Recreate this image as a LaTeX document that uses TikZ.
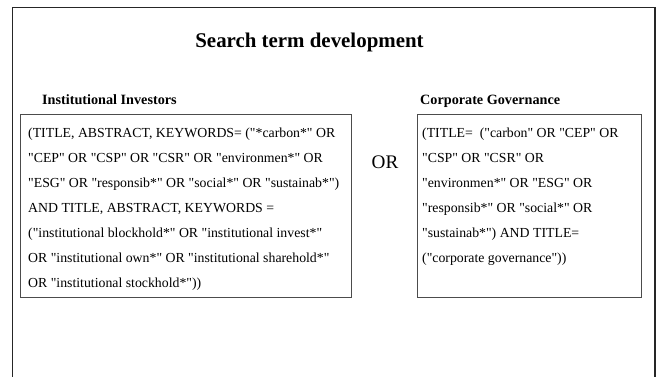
\documentclass[tikz,border=0pt]{standalone}
\usepackage{fontspec}
\setmainfont{Liberation Serif}[Ligatures=TeXOff]
\begin{document}
\begin{tikzpicture}[x=1pt,y=-1pt,
  frame/.style={draw=black!85,line width=1.1pt},
  qbox/.style={draw=black!70,line width=1.2pt,anchor=north west,inner sep=0pt},
  qtext/.style={anchor=north west,inner sep=0pt,align=left,font=\fontsize{13.8}{25}\selectfont},
  lbl/.style={anchor=base west,inner sep=0pt,font=\fontsize{14.2}{16}\selectfont\bfseries}]
\useasboundingbox (0,0) rectangle (658,377);
\coordinate (fbl) at (12.5,380);
\coordinate (fbr) at (655,380);
\draw[frame] (fbl) |- (655,7.5) -- (fbr);
\node[anchor=base,inner sep=0pt,font=\fontsize{20.9}{24}\selectfont\bfseries] (title) at (309.5,48) {Search term development};
\node[lbl] (l1) at (42,104.7) {Institutional Investors};
\node[lbl] (l2) at (420,104.7) {Corporate Governance};
\node[qbox,minimum width=331.5,minimum height=183] (b1) at (19.5,114) {};
\node[qbox,minimum width=224,minimum height=183] (b2) at (417,114) {};
\node[qtext] (t1) at (28,128) {(TITLE, ABSTRACT, KEYWORDS= ("*carbon*" OR\\
"CEP" OR "CSP" OR "CSR" OR "environmen*" OR\\
"ESG" OR "responsib*" OR "social*" OR "sustainab*")\\
AND TITLE, ABSTRACT, KEYWORDS =\\
("institutional blockhold*" OR "institutional invest*"\\
OR "institutional own*" OR "institutional sharehold*"\\
OR "institutional stockhold*"))};
\node[qtext] (t2) at (422,128) {(TITLE=\ \ ("carbon" OR "CEP" OR\\
"CSP" OR "CSR" OR\\
"environmen*" OR "ESG" OR\\
"responsib*" OR "social*" OR\\
"sustainab*") AND TITLE=\\
("corporate governance"))};
\node[anchor=base,inner sep=0pt,font=\fontsize{19.2}{22}\selectfont] (or) at (385,168.4) {OR};
\end{tikzpicture}
\end{document}
